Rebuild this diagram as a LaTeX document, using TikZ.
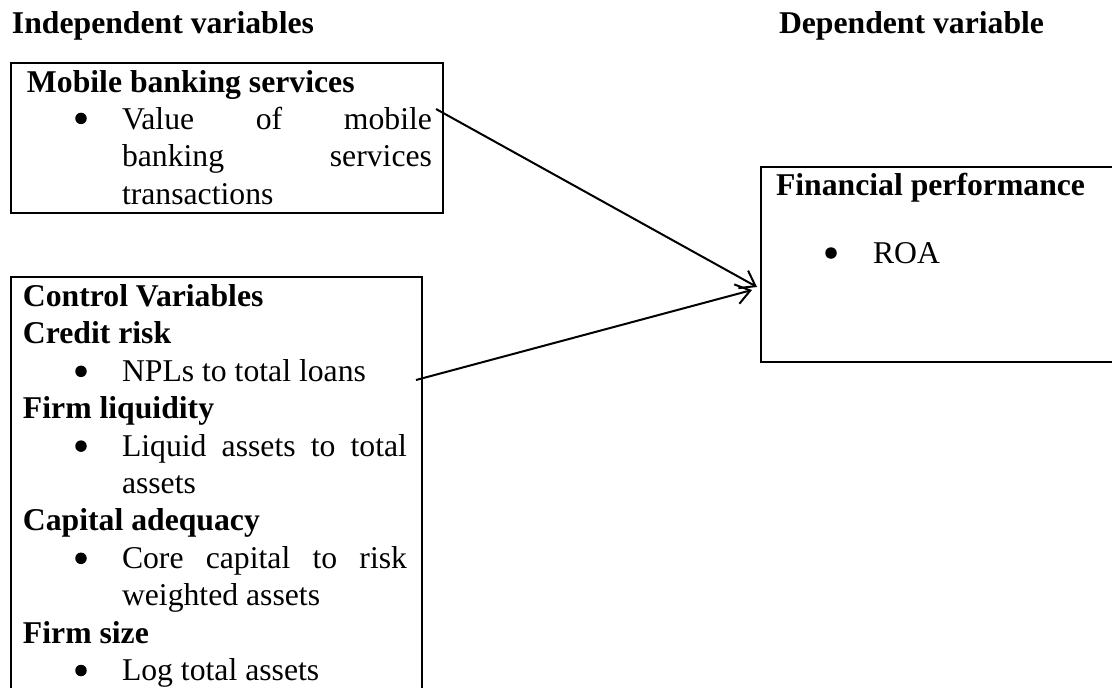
\documentclass[tikz,border=0pt]{standalone}
\usepackage{fontspec}
\setmainfont{Liberation Serif}
\usetikzlibrary{arrows.meta}
\tikzset{
  tx/.style={font=\fontsize{31.7}{37.4}\selectfont, anchor=base west, inner sep=0pt, outer sep=0pt},
  hd/.style={font=\fontsize{31.7}{37.4}\selectfont\bfseries, anchor=base west, inner sep=0pt, outer sep=0pt},
  dot/.style={circle, fill=black, inner sep=0pt, minimum size=11.5pt},
  box/.style={draw, line width=2.7pt, rectangle, anchor=north west, inner sep=0pt, outer sep=0pt},
  conn/.style={line width=2pt, -{Straight Barb[length=14pt,width=20pt,line width=2pt]}},
}
\begin{document}
\begin{tikzpicture}[x=1pt,y=-1pt]
\useasboundingbox (0,0) rectangle (1112,688);
% titles
\node[hd] (tind) at (12,33) {Independent variables};
\node[hd] (tdep) at (779,33) {Dependent variable};
% boxes
\node[box, minimum width=432pt, minimum height=150pt] (mbs) at (11,63) {};
\node[box, minimum width=411pt, minimum height=423pt] (ctl) at (11,277) {};
\node[box, minimum width=364pt, minimum height=195pt] (fin) at (761,167) {};
% box 1 text
\node[hd] (m1) at (27,92) {Mobile banking services};
\node[dot] (mb1) at (81,118.4) {};
\node[tx] (m2) at (122,129.4) {\makebox[310pt][s]{Value of mobile}};
\node[tx] (m3) at (122,166.8) {\makebox[310pt][s]{banking services}};
\node[tx] (m4) at (122,204.2) {transactions};
% box 2 text
\node[hd] (c1) at (23,306.5) {Control Variables};
\node[hd] (c2) at (23,343.9) {Credit risk};
\node[dot] (cb1) at (81,371.3) {};
\node[tx] (c3) at (122,381.3) {NPLs to total loans};
\node[hd] (c4) at (23,418.7) {Firm liquidity};
\node[dot] (cb2) at (81,446.1) {};
\node[tx] (c5) at (122,456.1) {\makebox[285pt][s]{Liquid assets to total}};
\node[tx] (c6) at (122,493.5) {assets};
\node[hd] (c7) at (23,530.9) {Capital adequacy};
\node[dot] (cb3) at (81,558.3) {};
\node[tx] (c8) at (122,568.3) {\makebox[285pt][s]{Core capital to risk}};
\node[tx] (c9) at (122,605.7) {weighted assets};
\node[hd] (c10) at (23,643.1) {Firm size};
\node[dot] (cb4) at (81,670.5) {};
\node[tx] (c11) at (122,680.5) {Log total assets};
% box 3 text
\node[hd] (f1) at (776,195) {Financial performance};
\node[dot] (fb1) at (831,253) {};
\node[tx] (f2) at (873,263) {ROA};
% connectors
\coordinate (s1) at (436,109);
\coordinate (e1) at (757,287);
\coordinate (s2) at (416,380);
\coordinate (e2) at (752,290);
\draw[conn] (s1) -- (e1);
\draw[conn] (s2) -- (e2);
\end{tikzpicture}
\end{document}
